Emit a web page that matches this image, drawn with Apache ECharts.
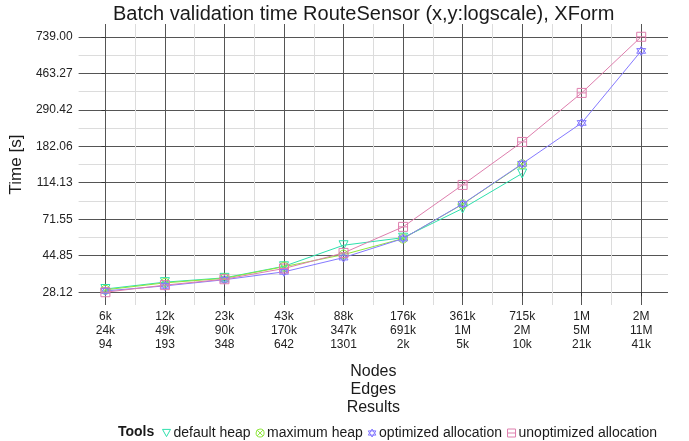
<!DOCTYPE html>
<html>
<head>
<meta charset="utf-8">
<script src="https://cdn.jsdelivr.net/npm/echarts@6/dist/echarts.min.js"></script>
<style>
  html, body { margin: 0; padding: 0; background: #fff; }
  #chart { width: 689px; height: 441px; }
</style>
</head>
<body>
<div id="chart"></div>
<script>
// x categories (three label rows per tick)
const nodes = ['6k', '12k', '23k', '43k', '88k', '176k', '361k', '715k', '1M', '2M'];
const edges = ['24k', '49k', '90k', '170k', '347k', '691k', '1M', '2M', '5M', '11M'];
const results = ['94', '193', '348', '642', '1301', '2k', '5k', '10k', '21k', '41k'];

// y tick labels (log spaced)
const yTickLabels = ['28.12', '44.85', '71.55', '114.13', '182.06', '290.42', '463.27', '739.00'];

// time in seconds
const defaultHeap = [29.3, 32.0, 33.8, 39.2, 51.3, 56.5, 82.1, 128.5];
const maximumHeap = [29.0, 31.7, 33.6, 39.0, 45.5, 55.9, 86.7, 144.7];
const optimizedAlloc = [28.6, 30.5, 33.0, 36.5, 43.8, 55.9, 87.0, 145.5, 245.4, 616.7];
const unoptimizedAlloc = [28.12, 30.8, 33.2, 38.1, 46.5, 64.9, 111.0, 192.4, 360.3, 739.0];

// log scale: one unit per y tick step
const yLo = Math.log(28.12), yHi = Math.log(739.0);
const yStep = (yHi - yLo) / 7;
const ly = v => (Math.log(v) - yLo) / yStep;

const sym = {
  down: 'path://M0,0 L10,0 L5,9 Z',
  circX: 'path://M5,0 A5,5 0 1 1 4.99,0 Z M1.5,1.5 L8.5,8.5 M8.5,1.5 L1.5,8.5',
  star: 'path://M5,0 L10,8 L0,8 Z M0,2.5 L10,2.5 L5,10.5 Z',
  sqLine: 'path://M0,0 L10,0 L10,10 L0,10 Z M0,5 L10,5'
};

const defs = [
  { name: 'default heap', data: defaultHeap, color: '#2ee0ad', symbol: sym.down },
  { name: 'maximum heap', data: maximumHeap, color: '#8ee63c', symbol: sym.circX },
  { name: 'optimized allocation', data: optimizedAlloc, color: '#8579ff', symbol: sym.star },
  { name: 'unoptimized allocation', data: unoptimizedAlloc, color: '#de7ead', symbol: sym.sqLine }
];

const font = 'Liberation Sans, Arial, sans-serif';
const majX = [0, 1, 2, 3, 4, 5, 6, 7, 8, 9];
const minX = [0.5, 1.5, 2.5, 3.5, 4.5, 5.5, 6.5, 7.5, 8.5];
const majY = [0, 1, 2, 3, 4, 5, 6, 7];
const minY = [0.5, 1.5, 2.5, 3.5, 4.5, 5.5, 6.5];

const chart = echarts.init(document.getElementById('chart'));
chart.setOption({
  animation: false,
  backgroundColor: '#fff',
  textStyle: { fontFamily: font },
  title: {
    text: 'Batch validation time RouteSensor (x,y:logscale), XForm',
    left: 108, top: -1,
    textStyle: { fontFamily: font, fontSize: 20, fontWeight: 'normal', color: '#1a1a1a' }
  },
  graphic: [{
    type: 'text', left: 118, top: 425,
    style: { text: 'Tools', font: 'bold 14px ' + font, fill: '#1a1a1a' }
  }],
  legend: {
    left: 157, top: 421,
    itemWidth: 8, itemHeight: 8, itemGap: 5,
    textStyle: { fontFamily: font, fontSize: 14, color: '#1a1a1a', padding: [0, 0, 0, -2] },
    data: defs.map(d => ({
      name: d.name, icon: d.symbol,
      itemStyle: { color: 'rgba(0,0,0,0)', borderColor: d.color, borderWidth: 1 }
    }))
  },
  grid: { left: 77, right: 21, top: 24, bottom: 136 },
  xAxis: [{
    type: 'value', min: -0.45, max: 9.45,
    name: 'Nodes\nEdges\nResults', nameLocation: 'middle', nameGap: 58,
    nameTextStyle: { fontFamily: font, fontSize: 16, color: '#1a1a1a', lineHeight: 18 },
    axisLine: { show: false },
    axisTick: { show: true, length: 4, customValues: majX, lineStyle: { color: '#333' } },
    axisLabel: {
      customValues: majX, margin: 5, fontSize: 12, lineHeight: 14, color: '#222',
      formatter: v => nodes[v] + '\n' + edges[v] + '\n' + results[v]
    },
    splitLine: { show: true, lineStyle: { color: '#555', width: 1 } }
  }, {
    type: 'value', min: -0.45, max: 9.45, position: 'bottom',
    axisLine: { show: false },
    axisTick: { show: false, customValues: minX },
    axisLabel: { show: false, customValues: minX },
    splitLine: { show: true, lineStyle: { color: '#dcdcdc', width: 1 } }
  }],
  yAxis: [{
    type: 'value', min: -0.35, max: 7.35,
    name: 'Time [s]', nameLocation: 'middle', nameGap: 43, nameRotate: 90,
    nameTextStyle: { fontFamily: font, fontSize: 17, color: '#1a1a1a' },
    axisLine: { show: false },
    axisTick: { show: true, length: 4, customValues: majY, lineStyle: { color: '#333' } },
    axisLabel: {
      customValues: majY, margin: 6, fontSize: 12, color: '#222',
      formatter: v => yTickLabels[v]
    },
    splitLine: { show: true, lineStyle: { color: '#555', width: 1 } }
  }, {
    type: 'value', min: -0.35, max: 7.35, position: 'left',
    axisLine: { show: false },
    axisTick: { show: false, customValues: minY },
    axisLabel: { show: false, customValues: minY },
    splitLine: { show: true, lineStyle: { color: '#dcdcdc', width: 1 } }
  }],
  series: defs.map(d => ({
    name: d.name,
    type: 'line',
    xAxisIndex: 0, yAxisIndex: 0,
    data: d.data.map((v, i) => [i, ly(v)]),
    symbol: d.symbol,
    symbolSize: 9,
    showAllSymbol: true,
    lineStyle: { color: d.color, width: 1 },
    itemStyle: { color: 'rgba(0,0,0,0)', borderColor: d.color, borderWidth: 1 },
    emphasis: { disabled: true }
  }))
});
</script>
</body>
</html>
